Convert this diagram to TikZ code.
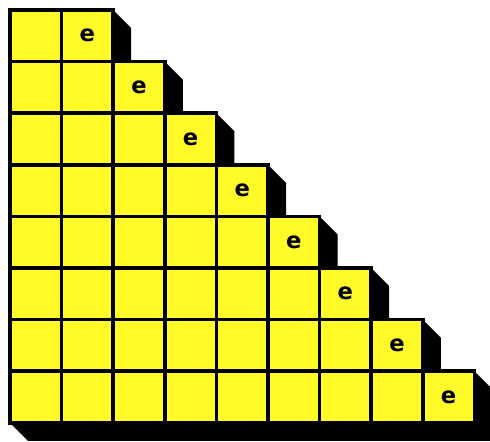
\documentclass[tikz,border=0pt]{standalone}
\usepackage{fontspec}
\setmainfont{DejaVu Sans}
\definecolor{cellyellow}{RGB}{255,250,40}
\tikzset{
  cell/.style={fill=cellyellow, draw=black, line width=3.6*0.75pt},
  elabel/.style={font=\fontsize{17}{17}\selectfont\bfseries, text=black, inner sep=0pt}
}
\begin{document}
\begin{tikzpicture}[x=0.75pt,y=-0.75pt]
\useasboundingbox (0,0) rectangle (490,442);
\fill[white] (0,0) rectangle (490,442);
\def\W{51.6}
\def\D{18}
% shadow
\fill[black] (10,10)
  \foreach \k in {1,...,8} {
    -- ({10+(\k+1)*\W},{10+(\k-1)*\W})
    -- ({10+(\k+1)*\W+\D},{10+(\k-1)*\W+\D})
    -- ({10+(\k+1)*\W+\D},{10+\k*\W})
  }
  -- ({10+9*\W+\D},{10+8*\W+\D})
  -- ({10+\D},{10+8*\W+\D})
  -- (10,{10+8*\W}) -- cycle;
% cells
\foreach \r in {1,...,8} {
  \foreach \c in {0,...,\r} {
    \draw[cell] ({10+\c*\W},{10+(\r-1)*\W}) rectangle ({10+(\c+1)*\W},{10+\r*\W});
  }
  \node[elabel] (e\r) at ({10+(\r+0.5)*\W},{10+(\r-0.5)*\W}) {e};
}
\end{tikzpicture}
\end{document}
